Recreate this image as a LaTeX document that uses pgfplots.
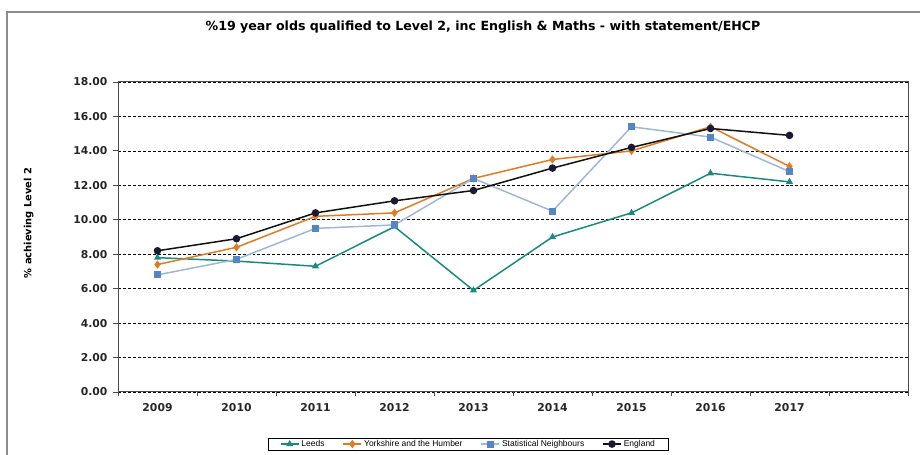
\documentclass[border=0pt]{standalone}
\usepackage{fontspec}
\setmainfont{DejaVu Sans}
\newfontfamily\legfont{Liberation Sans}
\usepackage{pgfplots}
\pgfplotsset{compat=1.18}
\definecolor{leeds}{HTML}{1B8A7E}
\definecolor{yorks}{HTML}{E07B22}
\definecolor{snline}{HTML}{9DB7D5}
\definecolor{snmark}{HTML}{5585C5}
\definecolor{eng}{HTML}{111111}
\definecolor{engmark}{HTML}{1A1A35}
\definecolor{frame}{HTML}{8C8C8C}
\begin{document}
\begin{tikzpicture}[x=1bp,y=1bp]
\path[use as bounding box] (0,0) rectangle (920,455);
\draw[frame, line width=1.2bp] (7,0) -- (7,443) -- (920,443);
\node[font=\fontsize{12.6bp}{15bp}\selectfont\bfseries] at (483,428) {\%19 year olds qualified to Level 2, inc English \& Maths - with statement/EHCP};
\begin{axis}[
  at={(118bp,63bp)}, anchor=south west,
  scale only axis, width=790bp, height=310bp,
  xmin=-0.5, xmax=9.5, ymin=0, ymax=18,
  xtick={0,...,8},
  xticklabels={2009,2010,2011,2012,2013,2014,2015,2016,2017},
  minor xtick={-0.5,0.5,...,9.5},
  ytick={0,2,...,18},
  tick pos=left, tick align=outside,
  major tick length=5bp, minor tick length=4bp,
  x tick style={draw=none},
  minor x tick style={draw=black!70, line width=0.8bp},
  y tick style={draw=black!70, line width=0.8bp},
  axis line style={black!70, line width=1bp},
  ymajorgrids, grid style={black, densely dashed, line width=0.6bp},
  /pgf/number format/assume math mode=true,
  ticklabel style={font=\fontsize{10.8bp}{12bp}\selectfont\bfseries, text=black!85},
  xticklabel style={yshift=-3bp},
  yticklabel style={xshift=-2bp, /pgf/number format/fixed, /pgf/number format/fixed zerofill, /pgf/number format/precision=2},
  ylabel={\% achieving Level 2},
  ylabel style={font=\fontsize{9.9bp}{11bp}\selectfont\bfseries, at={(axis description cs:-0.113,0.545)}, anchor=center},
  legend columns=4,
  legend style={at={(axis description cs:0.443,-0.168)}, anchor=center,
    font=\legfont\fontsize{8.5bp}{9bp}\selectfont, draw=black, line width=0.6bp,
    inner xsep=12bp, inner ysep=0.5bp, column sep=1bp,
    /tikz/every even column/.append style={column sep=17bp},
    nodes={inner xsep=1bp, inner ysep=1.5bp}},
  legend image code/.code={\draw[#1] (0bp,0bp) -- (9bp,0bp) plot coordinates {(9bp,0bp)} -- (18bp,0bp);},
]
\addplot[leeds, line width=1.5bp, mark=triangle*, mark size=2.6bp, mark options={solid}] coordinates {
(0,7.8) (1,7.6) (2,7.3) (3,9.6) (4,5.9) (5,9.0) (6,10.4) (7,12.7) (8,12.2)};
\addlegendentry{Leeds}
\addplot[yorks, line width=1.5bp, mark=diamond*, mark size=3bp] coordinates {
(0,7.4) (1,8.4) (2,10.2) (3,10.4) (4,12.4) (5,13.5) (6,14.0) (7,15.4) (8,13.1)};
\addlegendentry{Yorkshire and the Humber}
\addplot[snline, line width=1.5bp, mark=square*, mark size=2.8bp, mark options={fill=snmark, draw=snmark}] coordinates {
(0,6.8) (1,7.7) (2,9.5) (3,9.7) (4,12.4) (5,10.5) (6,15.4) (7,14.8) (8,12.8)};
\addlegendentry{Statistical Neighbours}
\addplot[eng, line width=1.5bp, mark=*, mark size=3bp, mark options={fill=engmark, draw=engmark}] coordinates {
(0,8.2) (1,8.9) (2,10.4) (3,11.1) (4,11.7) (5,13.0) (6,14.2) (7,15.3) (8,14.9)};
\addlegendentry{England}
\end{axis}
\end{tikzpicture}
\end{document}
